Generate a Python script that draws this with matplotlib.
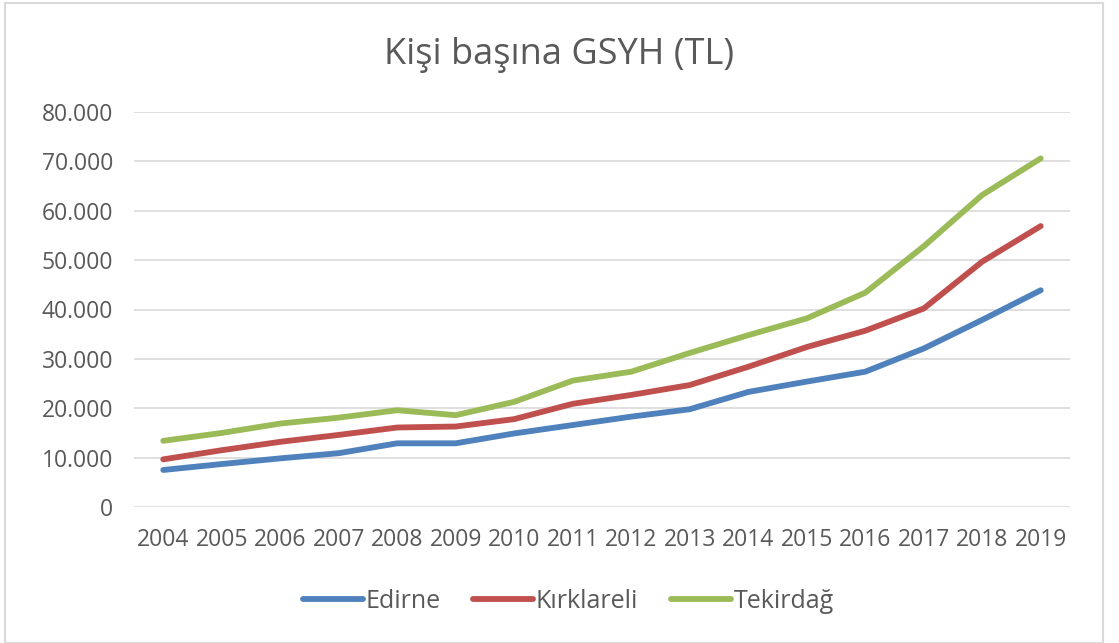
import matplotlib.pyplot as plt
from matplotlib.patches import Rectangle
from matplotlib.ticker import FuncFormatter

years = [str(y) for y in range(2004, 2020)]
edirne = [7500, 8700, 9850, 10900, 12900, 12900, 14900, 16600, 18300, 19800,
          23300, 25400, 27400, 32100, 37900, 43900]
kirklareli = [9650, 11500, 13200, 14600, 16100, 16300, 17800, 20900, 22700, 24700,
              28400, 32400, 35700, 40200, 49700, 56900]
tekirdag = [13400, 15000, 16900, 18100, 19600, 18600, 21300, 25600, 27400, 31200,
            34800, 38200, 43400, 52800, 63200, 70600]

plt.rcParams['font.family'] = ['Open Sans', 'DejaVu Sans']
gray = '#595959'

W, H = 1119, 643
fig = plt.figure(figsize=(W / 100, H / 100), dpi=100)
ax = fig.add_axes([134 / W, 1 - 507 / H, (1070 - 134) / W, (507 - 112) / H])

# chart frame
fig.patches.append(Rectangle((5 / W, 0), 1098 / W, 1 - 3 / H, transform=fig.transFigure,
                             fill=False, edgecolor='#d9d9d9', linewidth=1.5))

x = range(len(years))
ax.plot(x, edirne, color='#4F81BD', lw=4.2, solid_capstyle='round', label='Edirne')
ax.plot(x, kirklareli, color='#C0504D', lw=4.2, solid_capstyle='round', label='Kırklareli')
ax.plot(x, tekirdag, color='#9BBB59', lw=4.2, solid_capstyle='round', label='Tekirdağ')

ax.set_xlim(-0.5, len(years) - 0.5)
ax.set_ylim(0, 80000)
ax.set_yticks(range(0, 80001, 10000))
ax.yaxis.set_major_formatter(FuncFormatter(lambda v, p: f'{int(v):,}'.replace(',', '.')))
ax.set_xticks(list(x))
ax.set_xticklabels(years)
ax.grid(axis='y', color='#d9d9d9', lw=1.2)
ax.set_axisbelow(True)
for s in ax.spines.values():
    s.set_visible(False)
ax.tick_params(length=0, labelsize=16.5, colors=gray)
ax.tick_params(axis='x', pad=15)
ax.tick_params(axis='y', pad=15)

fig.text(0.5, 1 - 55 / H, 'Kişi başına GSYH (TL)', ha='center', va='center',
         fontsize=26, color=gray)

fig.legend(loc='center', bbox_to_anchor=(0.508, 1 - 601 / H), ncol=3, frameon=False,
           fontsize=18, labelcolor=gray, handlelength=2.4, handletextpad=0.1,
           columnspacing=1.3)

fig.savefig('out.png', dpi=100)
